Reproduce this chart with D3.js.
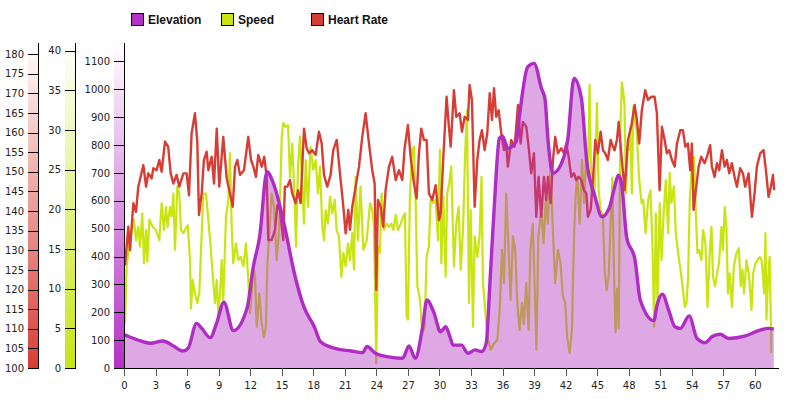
<!DOCTYPE html>
<html>
<head>
<meta charset="utf-8">
<script src="https://cdn.jsdelivr.net/npm/d3@7"></script>
<style>
  body { margin: 0; background: #fff; }
  svg { display: block; }
  .axis text { font-family: "DejaVu Sans", sans-serif; font-size: 10px; fill: #222; }
  .axis path, .axis line { stroke: #000; shape-rendering: crispEdges; }
  .xaxis line { stroke: #555; }
  .legend text { font-family: "Liberation Sans", Arial, sans-serif; font-size: 12px; font-weight: bold; fill: #111; }
</style>
</head>
<body>
<svg id="chart" width="800" height="400"></svg>
<script>
// ---------- DATA ----------
const legendLabels = ["Elevation", "Speed", "Heart Rate"];
const distTicks = [0, 3, 6, 9, 12, 15, 18, 21, 24, 27, 30, 33, 36, 39, 42, 45, 48, 51, 54, 57, 60];
const hrTicks = [100, 105, 110, 115, 120, 125, 130, 135, 140, 145, 150, 155, 160, 165, 170, 175, 180];
const speedTicks = [0, 5, 10, 15, 20, 25, 30, 35, 40];
const elevTicks = [0, 100, 200, 300, 400, 500, 600, 700, 800, 900, 1000, 1100];

const elevDist = [0, 0.5, 1.5, 2.5, 3.7, 4.7, 5.6, 6.1, 6.9, 7.4, 8.2, 8.8, 9.5, 10.4, 11.7, 12.3, 12.9, 13.6, 14.2, 15.2, 16.2, 17.1, 18.1, 18.7, 20, 21.6, 22.7, 23.1, 23.9, 25, 26.5, 27.1, 27.7, 28.4, 28.8, 29.5, 30.1, 30.6, 31, 31.3, 32.1, 32.7, 33.4, 34, 34.45, 34.8, 35.25, 35.7, 36, 36.5, 37.3, 37.6, 38.4, 39, 39.7, 40.05, 40.3, 40.8, 41.6, 42.2, 42.8, 43.5, 44, 44.8, 45.45, 46.2, 46.6, 47.05, 47.36, 47.8, 48.6, 49.1, 50.4, 50.7, 51.2, 51.8, 52.4, 52.9, 53.75, 54.5, 55.3, 55.9, 56.7, 57.5, 59.1, 60.35, 61.3, 61.8];
const elevVals = [120, 112, 98, 89, 97, 79, 61, 71, 160, 142, 109, 160, 236, 134, 214, 364, 471, 704, 663, 522, 340, 220, 148, 94, 71, 61, 55, 77, 53, 41, 35, 79, 35, 148, 244, 196, 130, 148, 112, 82, 82, 53, 65, 59, 89, 304, 603, 824, 832, 788, 812, 902, 1081, 1093, 1004, 962, 830, 699, 734, 818, 1039, 968, 746, 615, 543, 579, 640, 692, 651, 471, 388, 244, 170, 226, 265, 208, 148, 142, 187, 106, 91, 112, 121, 106, 115, 134, 142, 140];

const speedDist = [0.1, 0.25, 0.5, 0.73, 0.95, 1.14, 1.36, 1.52, 1.74, 1.9, 2.09, 2.22, 2.41, 2.73, 3.04, 3.36, 3.58, 3.8, 3.99, 4.15, 4.37, 4.53, 4.69, 4.85, 5.07, 5.26, 5.42, 5.64, 5.87, 6.06, 6.28, 6.37, 6.53, 6.75, 6.97, 7.16, 7.39, 7.54, 7.8, 8.02, 8.24, 8.43, 8.65, 8.82, 8.97, 9.13, 9.29, 9.44, 9.7, 9.92, 10.08, 10.24, 10.39, 10.65, 10.87, 11.1, 11.35, 11.6, 11.82, 11.98, 12.14, 12.3, 12.46, 12.62, 12.87, 13.09, 13.31, 13.5, 13.63, 13.82, 14.04, 14.26, 14.52, 14.77, 15.0, 15.15, 15.37, 15.6, 15.79, 16.0, 16.23, 16.36, 16.55, 16.74, 16.96, 17.12, 17.28, 17.5, 17.74, 18.0, 18.23, 18.45, 18.64, 18.86, 19.02, 19.18, 19.4, 19.59, 19.81, 20.04, 20.22, 20.44, 20.67, 20.86, 21.08, 21.3, 21.49, 21.71, 21.87, 22.03, 22.25, 22.5, 22.76, 23.08, 23.4, 23.61, 23.77, 23.99, 24.15, 24.34, 24.5, 24.72, 24.98, 25.2, 25.42, 25.61, 25.84, 26.06, 26.31, 26.56, 26.72, 26.88, 27.0, 27.2, 27.42, 27.58, 27.74, 27.9, 28.15, 28.37, 28.59, 28.78, 29.0, 29.16, 29.41, 29.64, 29.86, 30.05, 30.18, 30.37, 30.59, 30.74, 30.93, 31.12, 31.38, 31.6, 31.83, 32.02, 32.24, 32.46, 32.62, 32.81, 32.97, 33.19, 33.35, 33.6, 33.82, 34.0, 34.14, 34.3, 34.55, 34.87, 35.19, 35.5, 35.73, 35.95, 36.14, 36.35, 36.58, 36.77, 36.99, 37.21, 37.4, 37.62, 37.85, 38.03, 38.26, 38.48, 38.65, 38.88, 39.1, 39.22, 39.41, 39.68, 39.9, 40.12, 40.31, 40.56, 40.8, 41.01, 41.27, 41.52, 41.74, 41.96, 42.15, 42.38, 42.6, 42.8, 42.96, 43.11, 43.34, 43.56, 43.75, 43.97, 44.12, 44.28, 44.44, 44.6, 44.76, 44.98, 45.14, 45.33, 45.55, 45.71, 45.9, 46.09, 46.28, 46.45, 46.6, 46.75, 46.9, 47.05, 47.2, 47.35, 47.5, 47.6, 47.75, 47.9, 48.0, 48.15, 48.3, 48.45, 48.6, 48.75, 49.0, 49.23, 49.38, 49.6, 49.85, 50.07, 50.26, 50.42, 50.58, 50.74, 50.95, 51.12, 51.34, 51.53, 51.75, 51.9, 52.06, 52.3, 52.48, 52.7, 52.93, 53.12, 53.34, 53.5, 53.65, 53.81, 54.03, 54.22, 54.38, 54.54, 54.69, 54.92, 55.07, 55.3, 55.49, 55.71, 55.87, 56.02, 56.21, 56.4, 56.59, 56.82, 56.97, 57.13, 57.29, 57.44, 57.6, 57.82, 58.0, 58.25, 58.47, 58.66, 58.82, 58.97, 59.2, 59.45, 59.68, 59.83, 60.06, 60.25, 60.47, 60.63, 60.78, 60.88, 61.01, 61.1, 61.25, 61.41, 61.57];
const speedVals = [5.6, 12.8, 15.5, 17.4, 18.7, 16.1, 17.8, 15.3, 19.5, 13.2, 17.4, 13.4, 18.7, 17.8, 17.4, 16.1, 20.8, 17.4, 20.3, 17.8, 20.3, 19.1, 22, 14.9, 22.9, 22, 17.4, 17, 17.6, 18, 13.6, 7.5, 11.1, 9.4, 8.2, 9.4, 17, 22, 22, 18.7, 15.3, 11.9, 8.2, 11.1, 6.9, 9.4, 13.6, 8.6, 19.1, 21.2, 27.1, 17.8, 13.2, 15.7, 13.6, 14, 12.8, 15.7, 11.1, 6.9, 9.4, 12.8, 11.5, 5.2, 9.4, 5.6, 3.9, 5.2, 12.8, 17, 22, 20.3, 13.6, 17.8, 29.2, 30.9, 30.4, 30.6, 24.1, 28.3, 21.2, 15.3, 25.4, 29.2, 22.9, 18.2, 26.2, 20.3, 27.9, 25, 26.2, 22, 25.4, 17.8, 16.1, 19.9, 18.2, 21.6, 19.5, 21.2, 17.4, 16.6, 11.5, 14.5, 12.8, 15.7, 13.6, 17, 12.4, 24.1, 16.1, 22.9, 14.9, 16.1, 20.8, 19.9, 17.8, 0.6, 15.3, 14.5, 22, 17.4, 18.2, 17.8, 18.2, 17.4, 19.3, 17.4, 18.2, 19.1, 19.5, 6.5, 6.1, 22, 27.5, 27.9, 20.8, 10.3, 8.6, 4.4, 5.2, 14, 15.3, 21.2, 20.8, 21.2, 16.1, 27.5, 13.2, 21.6, 11.5, 22, 23.3, 25.4, 12.8, 18.2, 20.3, 12.4, 17.4, 27.5, 32.5, 8.2, 19.9, 5.2, 16.6, 14, 16.6, 24.1, 10.7, 8.2, 3.9, 2.3, 3.1, 3.5, 7.3, 14.9, 10.7, 22, 14.9, 8.6, 16.6, 14.9, 8.2, 4.8, 8.2, 5.6, 10.7, 4.8, 14.9, 18.2, 8.2, 2.3, 16.6, 19.9, 15.7, 21.6, 18.2, 25.4, 17, 10.7, 14.9, 13.2, 9, 8.2, 3.9, 1.9, 4.8, 16.6, 22, 24.1, 18.2, 26.2, 20.8, 27.1, 24.1, 35.7, 22.4, 24.1, 22, 33.4, 22.4, 19.9, 19.1, 12.4, 9.8, 11.5, 18.2, 24, 12, 4.5, 10, 5, 30, 36, 34.6, 33, 22, 27.9, 27.5, 30.4, 22, 33, 31.3, 30, 23.7, 20.8, 21.2, 17, 21.2, 22.4, 15.3, 5.2, 19.5, 8.2, 20.8, 13.6, 19.9, 23.7, 17, 24.6, 20.8, 22.9, 17, 14.5, 12.4, 10.3, 7.7, 8.2, 11.5, 21.2, 26.2, 26.6, 19.5, 14.5, 14.9, 13.6, 17.4, 15.7, 7.7, 14.5, 17.8, 11.5, 10.3, 11.9, 13.2, 17.8, 14.9, 20.3, 17.8, 9.4, 11.9, 7.7, 12.8, 14.5, 15.1, 10.3, 12.4, 9.4, 13.6, 11.5, 7.3, 11.9, 13.2, 13.6, 14, 13.6, 11.5, 9.4, 17, 6.1, 11.1, 14, 1.9];

const hrDist = [0.1, 0.41, 0.57, 0.89, 1.14, 1.36, 1.84, 2.1, 2.31, 2.63, 2.79, 3.1, 3.36, 3.58, 3.9, 4.2, 4.44, 4.69, 5.0, 5.26, 5.64, 5.96, 6.18, 6.43, 6.75, 6.97, 7.13, 7.39, 7.6, 7.86, 8.02, 8.34, 8.56, 8.82, 9.06, 9.44, 9.77, 10.08, 10.34, 10.56, 10.78, 11.03, 11.41, 11.82, 12.08, 12.3, 12.55, 12.77, 13.1, 13.34, 13.57, 13.72, 14.04, 14.36, 14.58, 14.83, 15.15, 15.3, 15.53, 15.79, 16.0, 16.32, 16.55, 16.8, 17.12, 17.37, 17.6, 17.9, 18.23, 18.54, 18.8, 19.02, 19.33, 19.65, 19.9, 20.23, 20.54, 20.86, 21.08, 21.33, 21.49, 21.71, 22.03, 22.35, 22.66, 22.98, 23.3, 23.61, 23.84, 23.99, 24.15, 24.41, 24.66, 24.88, 25.2, 25.51, 25.84, 26.15, 26.47, 26.69, 27.0, 27.26, 27.58, 27.83, 28.05, 28.27, 28.53, 28.78, 29.0, 29.32, 29.64, 29.96, 30.12, 30.37, 30.68, 30.9, 31.07, 31.38, 31.6, 31.92, 32.14, 32.4, 32.71, 32.87, 33.09, 33.35, 33.6, 33.82, 34.04, 34.3, 34.55, 34.78, 35.0, 35.19, 35.4, 35.63, 35.88, 36.14, 36.35, 36.51, 36.83, 37.15, 37.47, 37.72, 37.94, 38.26, 38.48, 38.73, 38.99, 39.21, 39.43, 39.68, 39.94, 40.16, 40.32, 40.58, 40.8, 41.01, 41.27, 41.59, 41.84, 42.06, 42.29, 42.54, 42.8, 43.01, 43.27, 43.49, 43.75, 43.97, 44.12, 44.38, 44.6, 44.82, 45.07, 45.33, 45.55, 45.77, 46.02, 46.28, 46.5, 46.66, 46.88, 47.05, 47.29, 47.61, 47.93, 48.24, 48.56, 48.78, 49.0, 49.25, 49.57, 49.83, 50.14, 50.46, 50.68, 50.94, 51.16, 51.42, 51.63, 51.85, 52.11, 52.37, 52.59, 52.91, 53.16, 53.38, 53.63, 53.85, 54.01, 54.17, 54.39, 54.65, 54.9, 55.22, 55.44, 55.75, 55.91, 56.17, 56.39, 56.61, 56.87, 57.12, 57.34, 57.56, 57.81, 58.07, 58.29, 58.6, 58.86, 59.08, 59.4, 59.72, 59.97, 60.19, 60.51, 60.83, 61.05, 61.3, 61.53, 61.72, 61.84];
const hrVals = [126.2, 136, 130, 142, 139.8, 146.2, 151.7, 146.2, 149.6, 148.3, 150.9, 150.4, 153, 150, 157.7, 156.4, 149.6, 147, 149.2, 146.2, 149.6, 149.6, 144, 159.8, 164.9, 157.7, 139, 144.5, 153, 155.1, 150.4, 153.8, 147, 161, 146.2, 158.9, 148.3, 144.5, 141.1, 151.3, 153, 149.2, 150.4, 158.9, 153, 151.3, 148.7, 154.3, 151.3, 153.8, 148.7, 132.6, 132.6, 135.2, 141.5, 140.3, 132.6, 146.2, 146.2, 147.9, 144.5, 142, 145.3, 142, 161, 156, 154.7, 155.5, 154.3, 160.2, 157.2, 149.2, 146.2, 149.2, 155.5, 158.1, 149.6, 141.1, 134.3, 140.3, 135.2, 141.1, 146.2, 151.3, 158.9, 164.9, 157.2, 150.4, 147, 119.9, 142.8, 141.1, 136, 145.3, 151.3, 153.8, 147.9, 150.4, 147.9, 156, 161.9, 153.8, 147, 143.2, 154.7, 161, 158.1, 158.1, 144.5, 142.8, 146.6, 137.7, 139.4, 153.8, 169.1, 161.5, 156.4, 170.8, 164, 164.9, 160.2, 164, 163.2, 172.1, 168.3, 141.1, 153, 158.1, 160.6, 155.5, 159.8, 170, 163.2, 171.3, 164, 165.7, 159.8, 155.5, 157.2, 151.3, 158.1, 156.4, 167, 157.2, 162.7, 161.5, 156.4, 149.6, 154.7, 138.5, 148.7, 138.5, 148.7, 142.8, 148.7, 142, 153, 158.9, 154.7, 156, 154.7, 157.2, 153.8, 148.7, 149.6, 147.9, 148.7, 147.9, 145.3, 144.5, 138.5, 140.3, 147.9, 158.1, 154.7, 160.2, 155.5, 154.7, 153, 158.1, 156.4, 155.5, 158.1, 162.7, 154.7, 145.3, 158.1, 161.5, 167, 163.2, 157.2, 165.7, 170.8, 168.3, 169.1, 169.1, 164.9, 145.3, 161.5, 158.1, 154.7, 155.5, 153, 151.3, 157.2, 160.6, 160.6, 156.4, 157.2, 150.4, 157.2, 140.3, 145.3, 151.3, 153.8, 152.2, 153.8, 156.8, 151.3, 148.7, 152.2, 150.4, 155.5, 151.3, 153, 149.6, 152.2, 148.7, 146.2, 150.9, 149.6, 146.2, 149.6, 138.5, 144.5, 151.3, 154.7, 155.5, 150.4, 143.6, 146.2, 149.2, 145.3];

// ---------- CHART ----------
(function () {
  const colors = { elev: "#b530c6", speed: "#c8e512", hr: "#d83d35" };
  const svg = d3.select("#chart");
  const yTop = 42, yBottom = 368;

  const x = d3.scaleLinear().domain([0, 62.2]).range([124, 778]);
  const yHR = d3.scaleLinear().domain([100, 183.06]).range([yBottom, yTop]);
  const ySpeed = d3.scaleLinear().domain([0, 41.1]).range([yBottom, yTop]);
  const yElev = d3.scaleLinear().domain([0, 1169.7]).range([yBottom, yTop]);

  const defs = svg.append("defs");
  function grad(id, col) {
    const g = defs.append("linearGradient").attr("id", id)
      .attr("x1", 0).attr("y1", 1).attr("x2", 0).attr("y2", 0);
    g.append("stop").attr("offset", "0%").attr("stop-color", col);
    g.append("stop").attr("offset", "100%").attr("stop-color", "#ffffff");
  }
  grad("gHR", colors.hr);
  grad("gSpeed", colors.speed);
  grad("gElev", colors.elev);

  const axes = [
    { x: 38, scale: yHR, ticks: hrTicks, g: "gHR" },
    { x: 75, scale: ySpeed, ticks: speedTicks, g: "gSpeed" },
    { x: 124, scale: yElev, ticks: elevTicks, g: "gElev" }
  ];
  axes.forEach(a => {
    svg.append("rect").attr("x", a.x - 10).attr("y", yTop).attr("width", 10)
      .attr("height", yBottom - yTop).attr("fill", `url(#${a.g})`);
  });

  const hrData = hrDist.map((d, i) => [d, hrVals[i]]);
  const speedData = speedDist.map((d, i) => [d, speedVals[i]]);
  const elevData = elevDist.map((d, i) => [d, elevVals[i]]);

  svg.append("path").datum(speedData)
    .attr("fill", "none").attr("stroke", colors.speed).attr("stroke-width", 2.2)
    .attr("stroke-linejoin", "round")
    .attr("d", d3.line().x(d => x(d[0])).y(d => ySpeed(d[1])));

  svg.append("path").datum(hrData)
    .attr("fill", "none").attr("stroke", colors.hr).attr("stroke-width", 2.4)
    .attr("stroke-linejoin", "round")
    .attr("d", d3.line().x(d => x(d[0])).y(d => yHR(d[1])));

  svg.append("path").datum(elevData)
    .attr("fill", "#b030c0").attr("fill-opacity", 0.42)
    .attr("d", d3.area().curve(d3.curveMonotoneX).x(d => x(d[0])).y0(yBottom).y1(d => yElev(d[1])));

  svg.append("path").datum(elevData)
    .attr("fill", "none").attr("stroke", "#b02cc4").attr("stroke-width", 3.4)
    .attr("stroke-linejoin", "round")
    .attr("d", d3.line().curve(d3.curveMonotoneX).x(d => x(d[0])).y(d => yElev(d[1])));

  axes.forEach(a => {
    svg.append("g").attr("class", "axis").attr("transform", `translate(${a.x},0)`)
      .call(d3.axisLeft(a.scale).tickValues(a.ticks).tickSize(10).tickSizeOuter(0).tickPadding(4).tickFormat(d3.format("d")));
  });
  svg.append("g").attr("class", "axis xaxis").attr("transform", `translate(0,${yBottom})`)
    .call(d3.axisBottom(x).tickValues(distTicks).tickSize(8).tickSizeOuter(0).tickPadding(6).tickFormat(d3.format("d")));

  const legendX = [131, 221, 311];
  const legendCols = [colors.elev, colors.speed, colors.hr];
  const lg = svg.append("g").attr("class", "legend");
  legendLabels.forEach((l, i) => {
    lg.append("rect").attr("x", legendX[i] + 0.5).attr("y", 13.5).attr("width", 12).attr("height", 12)
      .attr("fill", legendCols[i]).attr("stroke", "#000").attr("stroke-width", 1);
    lg.append("text").attr("x", legendX[i] + 17).attr("y", 24).text(l);
  });
})();
</script>
</body>
</html>
